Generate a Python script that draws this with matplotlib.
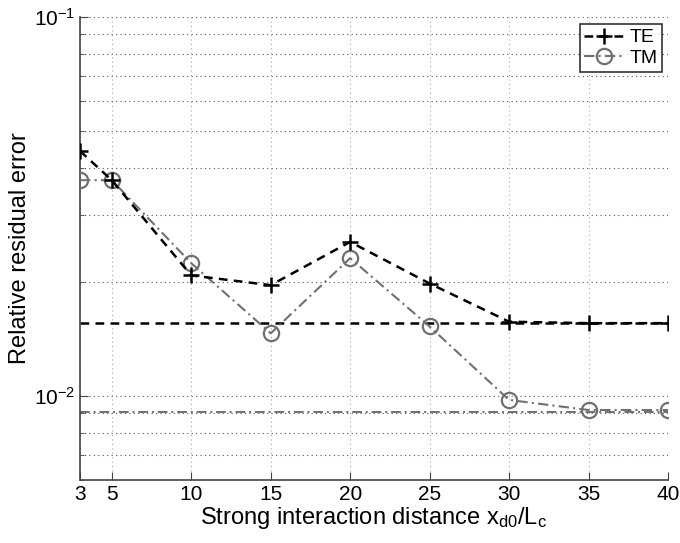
import matplotlib
matplotlib.use("Agg")
import matplotlib.pyplot as plt
from matplotlib.ticker import LogLocator, NullFormatter, FixedLocator

x = [3, 5, 10, 15, 20, 25, 30, 35, 40]
te = [0.0443, 0.0371, 0.0208, 0.0196, 0.0255, 0.0198, 0.0157, 0.01556, 0.01556]
tm = [0.0371, 0.0371, 0.0224, 0.01463, 0.0231, 0.01525, 0.00976, 0.00918, 0.00918]
te_ref = 0.01556
tm_ref = 0.00909
xticks = [3, 5, 10, 15, 20, 25, 30, 35, 40]

plt.rcParams['font.family'] = ['Liberation Sans', 'DejaVu Sans']
plt.rcParams['mathtext.fontset'] = 'custom'
plt.rcParams['mathtext.rm'] = 'Liberation Sans'
plt.rcParams['mathtext.it'] = 'Liberation Sans'
fig = plt.figure(figsize=(6.8, 5.43), dpi=100)
ax = fig.add_axes([80/680, 1 - 480/543, 588/680, (480-17)/543])

gray = '#707070'
dash = (0, (3.5, 2.5))
dashdot = (0, (5, 2, 1, 2))
ax.axhline(te_ref, color='black', ls=dash, lw=1.8, zorder=2)
ax.axhline(tm_ref, color=gray, ls=dashdot, lw=1.4, zorder=2)
ax.plot(x, te, color='black', ls=dash, lw=1.8, marker='+', ms=11, mew=1.8,
        label='TE', zorder=4)
ax.plot(x, tm, color=gray, ls=dashdot, lw=1.5, marker='o', ms=11, mew=1.6,
        mfc='none', mec=gray, label='TM', zorder=3)

ax.set_yscale('log')
ax.set_ylim(6e-3, 0.1)
ax.set_xlim(3, 40)
ax.set_xticks(xticks)
ax.set_xticklabels([str(v) for v in xticks])
ax.yaxis.set_major_locator(FixedLocator([1e-2, 1e-1]))
ax.yaxis.set_minor_locator(LogLocator(base=10, subs=range(2, 10)))
ax.yaxis.set_minor_formatter(NullFormatter())

ax.grid(True, which='major', axis='y', ls=(0, (1, 3)), color='#555555', lw=0.8)
ax.grid(True, which='minor', axis='y', ls=(0, (1, 3)), color='#555555', lw=0.8)
ax.grid(True, which='major', axis='x', ls=(0, (1, 3)), color='#aaaaaa', lw=0.8)

ax.spines['top'].set_visible(False)
ax.spines['right'].set_visible(False)
for s in ('left', 'bottom'):
    ax.spines[s].set_color('#444444')
    ax.spines[s].set_linewidth(1.2)
ax.tick_params(which='both', direction='in', labelsize=15, color='#444444')
ax.tick_params(which='major', length=6)
ax.tick_params(which='minor', length=3)

ax.set_xlabel(r'Strong interaction distance x$_{\mathregular{d0}}$/L$_{\mathregular{c}}$', fontsize=17, labelpad=1)
ax.set_ylabel('Relative residual error', fontsize=17)
ax.yaxis.set_label_coords(-0.083, 0.5)

leg = ax.legend(loc='upper right', fontsize=14, frameon=True, fancybox=False,
                edgecolor='black', handlelength=2.0, handletextpad=0.3,
                borderpad=0.25, labelspacing=0.15, borderaxespad=0,
                bbox_to_anchor=(0.99, 0.985))
leg.get_frame().set_linewidth(1.2)

fig.savefig('out.png', dpi=100)
